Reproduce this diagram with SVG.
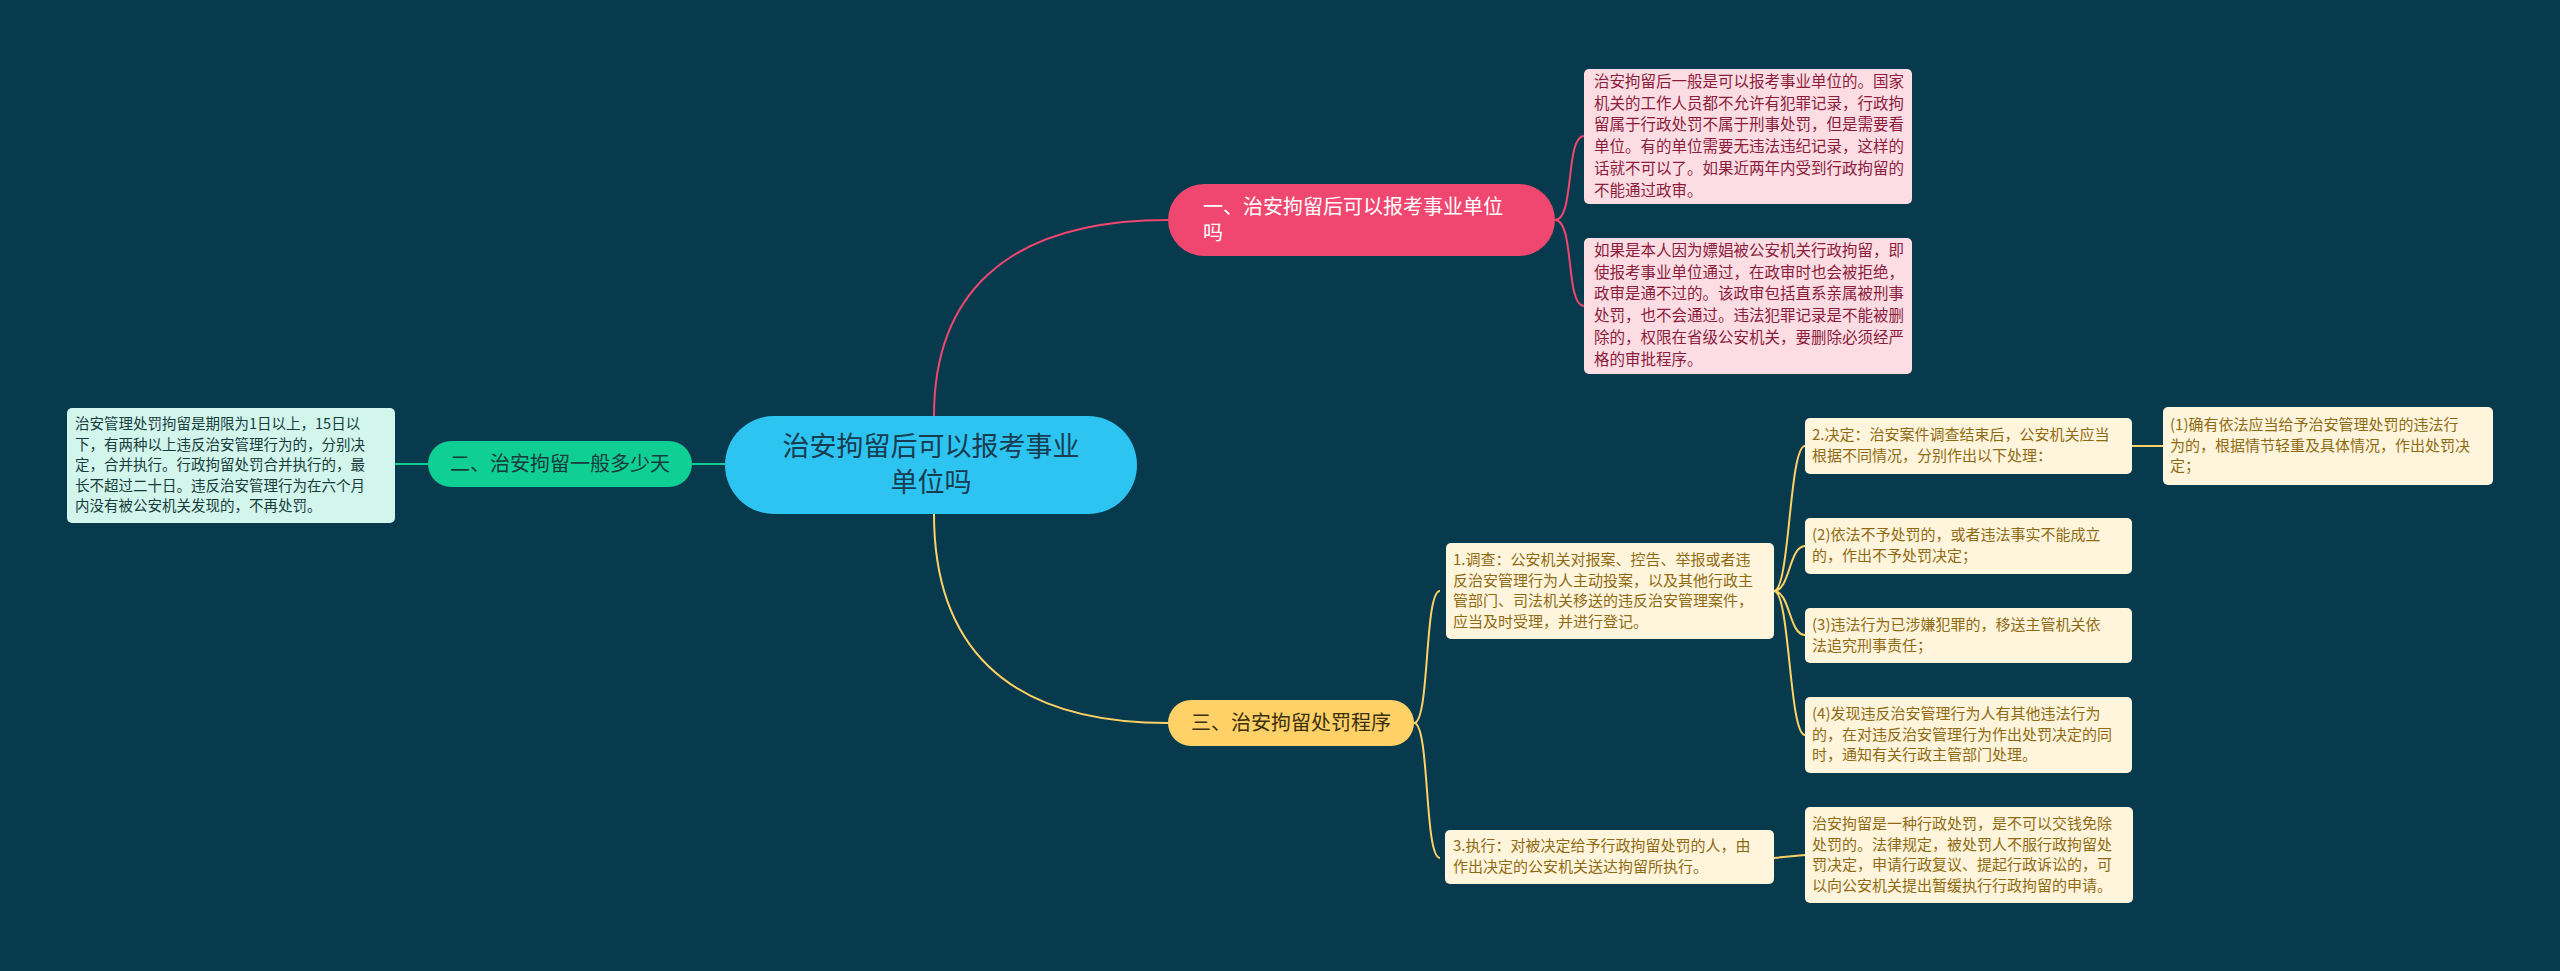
<svg xmlns="http://www.w3.org/2000/svg" width="2560" height="971" viewBox="0 0 2560 971">
<style>
text{font-family:"Noto Sans CJK SC","Noto Sans",sans-serif}
.lp{fill:#fcdde3}.lpt{fill:#8c1c3c;font-size:15.5px}
.ly{fill:#fff5dc}.lyt{fill:#8f6a12;font-size:15px}
.lg{fill:#d2f5ec}.lgt{fill:#173c3c;font-size:14.5px}
.c{fill:none;stroke-width:2}
</style>
<rect width="2560" height="971" fill="#073a4c"/>
<g id="connectors">
<path class="c" stroke="#ef476f" d="M934,416 C934,300 1000,220 1168,220"/>
<path class="c" stroke="#ffd166" d="M934,514 C934,640 1000,723 1168,723"/>
<path class="c" stroke="#0fcf95" d="M725,464 L692,464 M428,464 L395,464"/>
<path class="c" stroke="#ef476f" d="M1555,220 C1575,220 1565,136 1584,136 M1555,220 C1575,220 1565,306 1584,306"/>
<path class="c" stroke="#ffd166" d="M1414,723 C1430,723 1424,591 1440,591 M1414,723 C1430,723 1424,858 1440,858"/>
<path class="c" stroke="#ffd166" d="M1774,591 C1790,591 1789,446 1805,446 M1774,591 C1790,591 1789,546 1805,546 M1774,591 C1790,591 1789,635 1805,635 M1774,591 C1790,591 1789,735 1805,735 M2132,446 L2163,446 M1774,858 L1805,855"/>
</g>
<g id="root"><rect x="725" y="416" width="412" height="98" rx="49" fill="#2ec4f1"/>
<text x="931" y="456" font-size="27" fill="#173c50" text-anchor="middle">治安拘留后可以报考事业</text>
<text x="931" y="492" font-size="27" fill="#173c50" text-anchor="middle">单位吗</text></g>
<g id="n1"><rect x="1168" y="184" width="387" height="72" rx="36" fill="#ef476f"/>
<text x="1203" y="214" font-size="20" fill="#fff">一、治安拘留后可以报考事业单位</text>
<text x="1203" y="240" font-size="20" fill="#fff">吗</text></g>
<g id="n2"><rect x="428" y="441" width="264" height="46" rx="23" fill="#0fcf95"/>
<text x="560" y="471" font-size="20" fill="#173c3c" text-anchor="middle">二、治安拘留一般多少天</text></g>
<g id="n3"><rect x="1168" y="700" width="246" height="46" rx="23" fill="#ffd166"/>
<text x="1291" y="730" font-size="20" fill="#3a3010" text-anchor="middle">三、治安拘留处罚程序</text></g>
<g id="p1"><rect class="lp" x="1584" y="69" width="328" height="135" rx="5"/>
<text class="lpt"><tspan x="1594" y="87">治安拘留后一般是可以报考事业单位的。国家</tspan><tspan x="1594" dy="21.7">机关的工作人员都不允许有犯罪记录，行政拘</tspan><tspan x="1594" dy="21.7">留属于行政处罚不属于刑事处罚，但是需要看</tspan><tspan x="1594" dy="21.7">单位。有的单位需要无违法违纪记录，这样的</tspan><tspan x="1594" dy="21.7">话就不可以了。如果近两年内受到行政拘留的</tspan><tspan x="1594" dy="21.7">不能通过政审。</tspan></text></g>
<g id="p2"><rect class="lp" x="1584" y="238" width="328" height="136" rx="5"/>
<text class="lpt"><tspan x="1594" y="256">如果是本人因为嫖娼被公安机关行政拘留，即</tspan><tspan x="1594" dy="21.7">使报考事业单位通过，在政审时也会被拒绝，</tspan><tspan x="1594" dy="21.7">政审是通不过的。该政审包括直系亲属被刑事</tspan><tspan x="1594" dy="21.7">处罚，也不会通过。违法犯罪记录是不能被删</tspan><tspan x="1594" dy="21.7">除的，权限在省级公安机关，要删除必须经严</tspan><tspan x="1594" dy="21.7">格的审批程序。</tspan></text></g>
<g id="g1"><rect class="lg" x="67" y="408" width="328" height="115" rx="5"/>
<text class="lgt"><tspan x="75" y="429">治安管理处罚拘留是期限为1日以上，15日以</tspan><tspan x="75" dy="20.5">下，有两种以上违反治安管理行为的，分别决</tspan><tspan x="75" dy="20.5">定，合并执行。行政拘留处罚合并执行的，最</tspan><tspan x="75" dy="20.5">长不超过二十日。违反治安管理行为在六个月</tspan><tspan x="75" dy="20.5">内没有被公安机关发现的，不再处罚。</tspan></text></g>
<g id="y1"><rect class="ly" x="1446" y="543" width="328" height="96" rx="5"/>
<text class="lyt"><tspan x="1453" y="565">1.调查：公安机关对报案、控告、举报或者违</tspan><tspan x="1453" dy="20.5">反治安管理行为人主动投案，以及其他行政主</tspan><tspan x="1453" dy="20.5">管部门、司法机关移送的违反治安管理案件，</tspan><tspan x="1453" dy="20.5">应当及时受理，并进行登记。</tspan></text></g>
<g id="y2"><rect class="ly" x="1805" y="418" width="327" height="56" rx="5"/>
<text class="lyt"><tspan x="1812" y="440">2.决定：治安案件调查结束后，公安机关应当</tspan><tspan x="1812" dy="20.5">根据不同情况，分别作出以下处理：</tspan></text></g>
<g id="y3"><rect class="ly" x="2163" y="407" width="330" height="78" rx="5"/>
<text class="lyt"><tspan x="2170" y="430">(1)确有依法应当给予治安管理处罚的违法行</tspan><tspan x="2170" dy="20.5">为的，根据情节轻重及具体情况，作出处罚决</tspan><tspan x="2170" dy="20.5">定；</tspan></text></g>
<g id="y4"><rect class="ly" x="1805" y="518" width="327" height="56" rx="5"/>
<text class="lyt"><tspan x="1812" y="540">(2)依法不予处罚的，或者违法事实不能成立</tspan><tspan x="1812" dy="20.5">的，作出不予处罚决定；</tspan></text></g>
<g id="y5"><rect class="ly" x="1805" y="608" width="327" height="55" rx="5"/>
<text class="lyt"><tspan x="1812" y="630">(3)违法行为已涉嫌犯罪的，移送主管机关依</tspan><tspan x="1812" dy="20.5">法追究刑事责任；</tspan></text></g>
<g id="y6"><rect class="ly" x="1805" y="697" width="327" height="76" rx="5"/>
<text class="lyt"><tspan x="1812" y="719">(4)发现违反治安管理行为人有其他违法行为</tspan><tspan x="1812" dy="20.5">的，在对违反治安管理行为作出处罚决定的同</tspan><tspan x="1812" dy="20.5">时，通知有关行政主管部门处理。</tspan></text></g>
<g id="y7"><rect class="ly" x="1445" y="830" width="329" height="54" rx="5"/>
<text class="lyt"><tspan x="1453" y="851">3.执行：对被决定给予行政拘留处罚的人，由</tspan><tspan x="1453" dy="20.5">作出决定的公安机关送达拘留所执行。</tspan></text></g>
<g id="y8"><rect class="ly" x="1805" y="807" width="328" height="96" rx="5"/>
<text class="lyt"><tspan x="1812" y="829">治安拘留是一种行政处罚，是不可以交钱免除</tspan><tspan x="1812" dy="20.5">处罚的。法律规定，被处罚人不服行政拘留处</tspan><tspan x="1812" dy="20.5">罚决定，申请行政复议、提起行政诉讼的，可</tspan><tspan x="1812" dy="20.5">以向公安机关提出暂缓执行行政拘留的申请。</tspan></text></g>
</svg>
